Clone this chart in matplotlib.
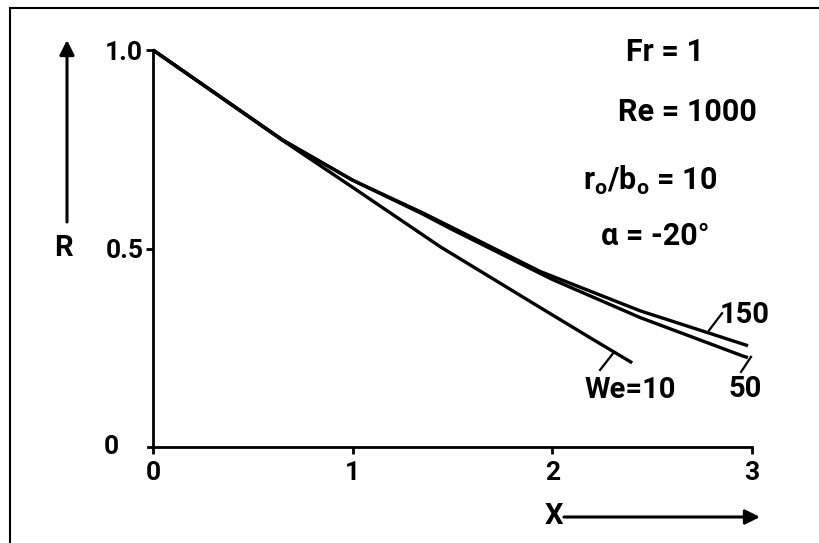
import matplotlib
matplotlib.use('Agg')
import matplotlib.pyplot as plt
from matplotlib.lines import Line2D

# curve data (x, R)
x_we10 = [0.0, 0.65, 1.0, 1.44, 1.94, 2.2, 2.4]
r_we10 = [1.0, 0.772, 0.654, 0.504, 0.351, 0.272, 0.212]

x_we50 = [0.0, 0.65, 1.0, 1.35, 1.49, 1.94, 2.0, 2.44, 2.95, 2.98]
r_we50 = [1.0, 0.773, 0.672, 0.587, 0.55, 0.437, 0.422, 0.326, 0.23, 0.225]

x_we150 = [0.0, 0.65, 1.0, 1.35, 1.49, 1.94, 2.44, 2.95, 2.98]
r_we150 = [1.0, 0.773, 0.672, 0.59, 0.555, 0.442, 0.343, 0.26, 0.255]

xticks = [0, 1, 2, 3]
yticks = [0.5, 1.0]
ytick_labels = ['0.5', '1.0']

params = ['Fr = 1', 'Re = 1000', r'r$_\mathregular{o}$/b$_\mathregular{o}$ = 10', 'α = -20°']

plt.rcParams['font.family'] = ['Roboto', 'DejaVu Sans']
plt.rcParams['font.weight'] = 'bold'
plt.rcParams['mathtext.default'] = 'regular'

W, H = 819, 543
fig = plt.figure(figsize=(W / 100, H / 100), dpi=100)
fig.patch.set_facecolor('white')


def fx(px):
    return px / W


def fy(py):
    return 1 - py / H


ax = fig.add_axes([fx(153), fy(447), (752 - 153) / W, (447 - 50) / H])
ax.set_xlim(0, 3)
ax.set_ylim(0, 1)
for s in ['top', 'right']:
    ax.spines[s].set_visible(False)
for s in ['left', 'bottom']:
    ax.spines[s].set_linewidth(2.0)

lw = 2.4
ax.plot(x_we10, r_we10, color='black', lw=lw, clip_on=False, solid_capstyle='butt')
ax.plot(x_we50, r_we50, color='black', lw=lw, clip_on=False, solid_capstyle='butt')
ax.plot(x_we150, r_we150, color='black', lw=lw, clip_on=False, solid_capstyle='butt')

ax.set_xticks(xticks)
ax.set_xticklabels([str(t) for t in xticks], fontsize=19, fontweight='bold')
ax.set_yticks(yticks)
ax.set_yticklabels(ytick_labels, fontsize=19, fontweight='bold')
ax.tick_params(axis='both', width=2.0, length=5, color='black')
ax.tick_params(axis='x', pad=5)
ax.tick_params(axis='y', pad=2)
# zero on y sits further left
ax.text(-0.21, 0.0, '0', fontsize=19, fontweight='bold', ha='center', va='center')
ax.plot([-0.025, 0], [0, 0], color='black', lw=2.0, clip_on=False)

# curve labels with leader lines
ax.plot([2.785, 2.85], [0.294, 0.337], color='black', lw=1.6, clip_on=False)
ax.plot([2.309, 2.239], [0.239, 0.194], color='black', lw=1.6, clip_on=False)
ax.plot([2.995, 2.945], [0.227, 0.189], color='black', lw=1.6, clip_on=False)
ax.text(2.965, 0.332, '150', fontsize=21, ha='center', va='center')
ax.text(2.389, 0.144, 'We=10', fontsize=21, ha='center', va='center')
ax.text(2.965, 0.146, '50', fontsize=21, ha='center', va='center')

# parameter block at top right
param_pos = [(665, 52), (687, 112), (650, 180), (655, 236)]
for txt, (px, py) in zip(params, param_pos):
    fig.text(fx(px), fy(py), txt, fontsize=22, ha='center', va='center')

# axis arrows and names
fig.text(fx(63), fy(248), 'R', fontsize=21, ha='center', va='center')
ax.annotate('', xy=(fx(67), fy(40)), xytext=(fx(67), fy(222)),
            xycoords='figure fraction', textcoords='figure fraction',
            arrowprops=dict(arrowstyle='-|>', color='black', lw=2.2,
                            mutation_scale=22, shrinkA=0, shrinkB=0))
fig.text(fx(554), fy(516), 'X', fontsize=21, ha='center', va='center')
ax.annotate('', xy=(fx(760), fy(517)), xytext=(fx(564), fy(517)),
            xycoords='figure fraction', textcoords='figure fraction',
            arrowprops=dict(arrowstyle='-|>', color='black', lw=2.2,
                            mutation_scale=22, shrinkA=0, shrinkB=0))

# frame of the scanned figure (top and left edges only)
fig.add_artist(Line2D([fx(10), fx(10)], [fy(8), 0], color='black', lw=1.5))
fig.add_artist(Line2D([fx(10), 1], [fy(8), fy(8)], color='black', lw=1.5))

fig.savefig('out.png', dpi=100)
